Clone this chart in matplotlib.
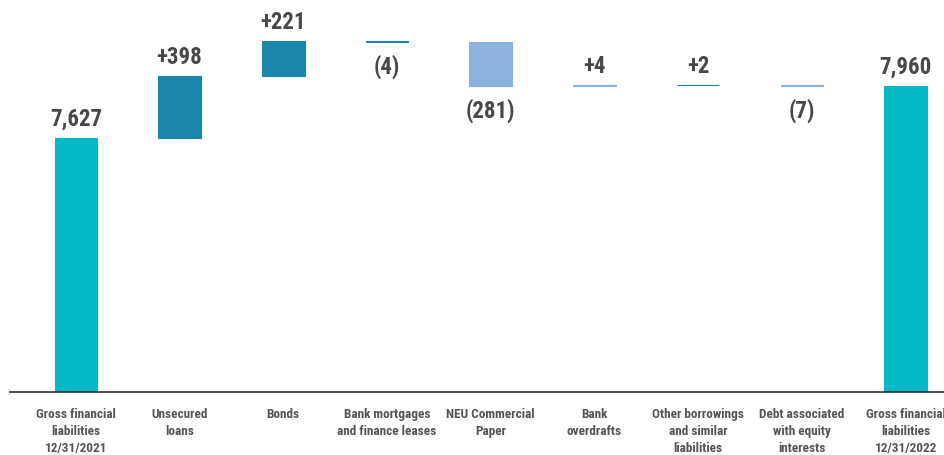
import matplotlib
matplotlib.use("Agg")
import matplotlib.pyplot as plt
from matplotlib import font_manager

categories = ["Gross financial\nliabilities\n12/31/2021", "Unsecured\nloans", "Bonds",
              "Bank mortgages\nand finance leases", "NEU Commercial\nPaper", "Bank\noverdrafts",
              "Other borrowings\nand similar\nliabilities", "Debt associated\nwith equity\ninterests",
              "Gross financial\nliabilities\n12/31/2022"]
start_value = 7627
deltas = [398, 221, -4, -281, 4, 2, -7]
end_value = 7960
value_labels = ["7,627", "+398", "+221", "(4)", "(281)", "+4", "+2", "(7)", "7,960"]
bar_colors = ["#00B8C6", "#1A87AA", "#1A87AA", "#1A87AA", "#89B2DF", "#89B2DF",
              "#1A87AA", "#89B2DF", "#00B8C6"]

names = {f.name for f in font_manager.fontManager.ttflist}
fam = [f for f in ["Liberation Sans Narrow", "Roboto Condensed", "Roboto", "DejaVu Sans"] if f in names]
plt.rcParams['font.family'] = fam

ymin = 6000
fig = plt.figure(figsize=(9.44, 4.55), dpi=100)
ax = fig.add_axes([10/944, (455-392)/455, 934/944, 392/455])

bottoms, heights = [], []
bottoms.append(ymin); heights.append(start_value - ymin)
cum = start_value
for d in deltas:
    bottoms.append(min(cum, cum + d)); heights.append(abs(d))
    cum += d
bottoms.append(ymin); heights.append(end_value - ymin)

x = list(range(len(categories)))
ax.bar(x, heights, bottom=bottoms, width=0.41, color=bar_colors,
       edgecolor=bar_colors, linewidth=0.8)

signs = [1] + [1 if d >= 0 else -1 for d in deltas] + [1]
for i, (b, h, s, lab) in enumerate(zip(bottoms, heights, signs, value_labels)):
    if s > 0:
        ax.annotate(lab, (i, b + h), xytext=(0, 5), textcoords="offset points",
                    ha="center", va="bottom", fontsize=16.5, fontweight="bold", color="#484848")
    else:
        ax.annotate(lab, (i, b), xytext=(0, -9), textcoords="offset points",
                    ha="center", va="top", fontsize=16.5, fontweight="bold", color="#484848")

ax.set_xlim(-0.635, 8.37)
ax.set_ylim(ymin, ymin + 392 * 6.4)
ax.set_xticks(x)
ax.set_xticklabels(categories, fontsize=9.5, color="#555555", fontweight="bold", linespacing=1.38)
ax.tick_params(axis="x", length=0, pad=11.5)
ax.set_yticks([])
for sp in ["top", "right", "left"]:
    ax.spines[sp].set_visible(False)
ax.spines["bottom"].set_color("#333333")
ax.spines["bottom"].set_linewidth(1.2)

fig.savefig("out.png", dpi=100)
